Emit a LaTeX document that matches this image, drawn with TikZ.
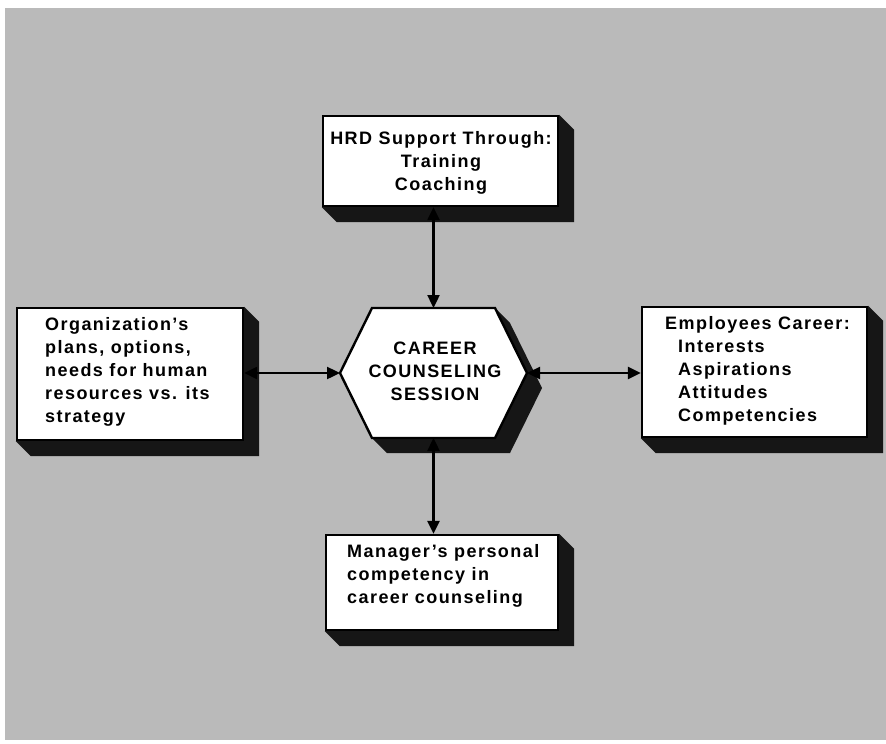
\documentclass[tikz,border=0pt]{standalone}
\usepackage{fontspec}
\setmainfont{Liberation Sans}[LetterSpace=8]
\usetikzlibrary{arrows.meta,calc}
\definecolor{bggray}{RGB}{186,186,186}
\definecolor{shadowcol}{RGB}{22,22,22}
\tikzset{
  box/.style={draw=black, line width=2.4pt, fill=white, inner sep=0pt},
  shapeonly/.style={inner sep=0pt, outer sep=0pt},
  extrude/.style={fill=shadowcol},
  txt/.style={inner sep=0pt, font=\fontsize{18}{23}\selectfont\bfseries},
  link/.style={line width=2.4pt, {Triangle[length=13pt,width=12pt]}-{Triangle[length=13pt,width=12pt]}},
}
\begin{document}
\begin{tikzpicture}[x=1pt,y=-1pt]
\useasboundingbox (0,0) rectangle (886,744);
\fill[white] (0,0) rectangle (886,744);
\fill[bggray] (5,8) rectangle (886,740);

% rectangular boxes
\node[box, minimum width=235pt, minimum height=90pt] (hrd) at (440.5,161) {};
\node[box, minimum width=226pt, minimum height=132pt] (org) at (130,374) {};
\node[box, minimum width=225pt, minimum height=130pt] (emp) at (754.5,372) {};
\node[box, minimum width=232pt, minimum height=95pt] (mgr) at (442,582.5) {};

% extruded shadows of the boxes
\foreach \b in {hrd,org,emp,mgr}{
  \fill[extrude] (\b.north east) -- ++(15,15) -- ($(\b.south east)+(15,15)$)
    -- ($(\b.south west)+(15,15)$) -- (\b.south west) -- (\b.south east) -- cycle;
}

% hexagon
\node[shapeonly, minimum width=187pt, minimum height=130pt] (hex) at (433.5,373) {};
\coordinate (hB) at ($(hex.north east)+(-32,0)$);
\coordinate (hD) at ($(hex.south east)+(-32,0)$);
\coordinate (hE) at ($(hex.south west)+(32,0)$);
\coordinate (hA) at ($(hex.north west)+(32,0)$);
\fill[extrude] (hB) -- ($(hB)+(15,15)$) -- ($(hex.east)+(15,15)$) -- ($(hD)+(15,15)$)
  -- ($(hE)+(15,15)$) -- (hE) -- (hD) -- (hex.east) -- cycle;
\filldraw[box] (hA) -- (hB) -- (hex.east) -- (hD) -- (hE) -- (hex.west) -- cycle;

% texts
\node[txt, align=center, anchor=north] (hrdtxt) at (441,131)
  {HRD Support Through:\\Training\\Coaching};
\node[txt, align=left, anchor=north west] (orgtxt) at (45,317)
  {Organization's\\plans, options,\\needs for human\\resources vs. its\\strategy};
\node[txt, align=center, anchor=north] (hextxt) at (435,342)
  {CAREER\\COUNSELING\\SESSION};
\node[txt, align=left, anchor=north west] (emptxt) at (665,316)
  {Employees Career:\\\hspace*{13pt}Interests\\\hspace*{13pt}Aspirations\\\hspace*{13pt}Attitudes\\\hspace*{13pt}Competencies};
\node[txt, align=left, anchor=north west] (mgrtxt) at (347,544)
  {Manager's personal\\competency in\\career counseling};

% connectors
\draw[link] (hex.north) -- (hex.north |- hrd.south);
\draw[link] (hex.south) -- (hex.south |- mgr.north);
\draw[link] (hex.west) -- (hex.west -| org.east);
\draw[link] (hex.east) -- (hex.east -| emp.west);
\end{tikzpicture}
\end{document}
